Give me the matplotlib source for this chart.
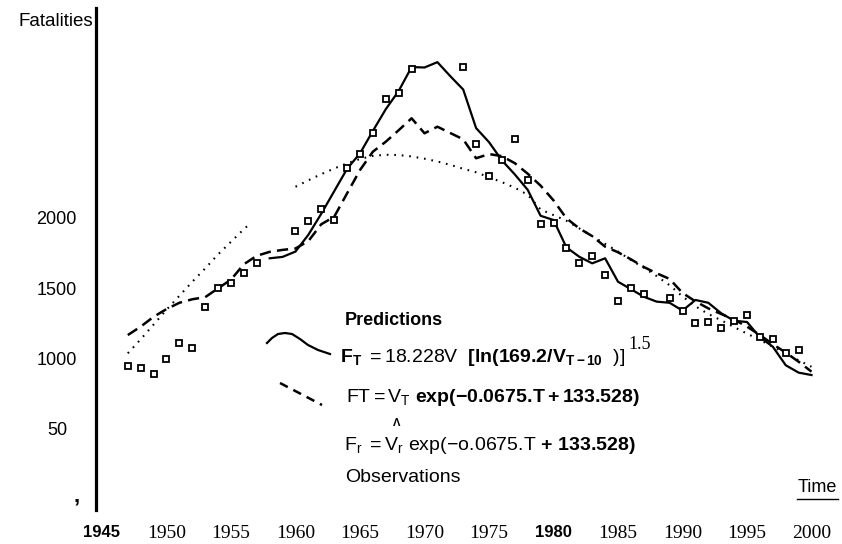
import matplotlib
matplotlib.use("Agg")
import matplotlib.pyplot as plt
import matplotlib.transforms as mtransforms
from matplotlib.lines import Line2D

plt.rcParams["font.family"] = ["Liberation Sans", "DejaVu Sans"]
plt.rcParams["mathtext.fontset"] = "custom"
plt.rcParams["mathtext.rm"] = "Liberation Sans"
plt.rcParams["mathtext.bf"] = "Liberation Sans:bold"
plt.rcParams["mathtext.it"] = "Liberation Sans:italic"

# observed road fatalities
obs_years = [1947, 1948, 1949, 1950, 1951, 1952, 1953, 1954, 1955, 1956, 1957,
             1960, 1961, 1962, 1963, 1964, 1965, 1966, 1967, 1968, 1969,
             1973, 1974, 1975, 1976, 1977, 1978, 1979, 1980, 1981, 1982, 1983,
             1984, 1985, 1986, 1987, 1989, 1990, 1991, 1992, 1993, 1994, 1995,
             1996, 1997, 1998, 1999]
obs_fatalities = [944, 928, 885, 994, 1110, 1073, 1367, 1498, 1534, 1610, 1681,
                  1910, 1976, 2061, 1985, 2353, 2457, 2603, 2845, 2892, 3064,
                  3078, 2525, 2299, 2410, 2562, 2270, 1954, 1966, 1783, 1681, 1728,
                  1591, 1408, 1498, 1460, 1427, 1339, 1253, 1256, 1218, 1267, 1306,
                  1149, 1135, 1035, 1058]

# F_T = 18.228 V [ln(169.2 / V_{T-10})]^1.5
model1_years = list(range(1958, 2001))
model1_values = [1712, 1722, 1760, 1880, 2030, 2190, 2350, 2460, 2620, 2775,
                 2905, 3075, 3072, 3110, 3010, 2915, 2640, 2540, 2410, 2310,
                 2200, 2015, 1985, 1790, 1723, 1676, 1712, 1545, 1492, 1438,
                 1403, 1395, 1339, 1415, 1395, 1320, 1267, 1258, 1149, 1082,
                 950, 897, 880]

# F_T = V_T exp(-0.0675 T + 133.528)
model2_years = list(range(1947, 2001))
model2_values = [1165, 1225, 1295, 1350, 1395, 1420, 1435, 1498, 1560, 1670,
                 1730, 1758, 1772, 1782, 1835, 1955, 2008, 2175, 2341, 2472,
                 2543, 2625, 2710, 2603, 2650, 2605, 2560, 2425, 2455, 2440,
                 2390, 2315, 2230, 2125, 1997, 1925, 1870, 1795, 1755, 1705,
                 1650, 1605, 1565, 1465, 1405, 1355, 1315, 1275, 1225, 1165,
                 1100, 1040, 975, 904]

# F_r = V_r exp(-0.0675 T + 133.528), fitted vehicle numbers
model3a_years = [1947, 1948, 1949, 1950, 1951, 1952, 1953, 1954, 1955, 1956, 1956.5]
model3a_values = [1035, 1135, 1240, 1345, 1445, 1545, 1640, 1740, 1830, 1920, 1961]
model3b_years = list(range(1960, 2001))
model3b_values = [2222, 2268, 2312, 2352, 2389, 2420, 2442, 2450, 2448, 2438,
                  2422, 2402, 2378, 2350, 2325, 2290, 2255, 2215, 2165, 2060,
                  2020, 1980, 1925, 1870, 1815, 1760, 1700, 1645, 1585, 1520,
                  1440, 1370, 1315, 1270, 1222, 1175, 1130, 1082, 1035, 985, 939]

x_ticks = list(range(1945, 2001, 5))
x_tick_labels = [str(t) for t in x_ticks]
y_ticks = [2000, 1500, 1000, 500, 0]
y_tick_labels = ["2000", "1500", "1000", "50", ","]

W, H = 842, 544
fig = plt.figure(figsize=(W / 100, H / 100), dpi=100)


def px(x, y):
    return x / W, 1 - y / H


def shift(label, dx, dy):
    # nudge a tick label by a few pixels
    label.set_transform(label.get_transform()
                        + mtransforms.ScaledTranslation(dx / 100, dy / 100,
                                                        fig.dpi_scale_trans))


ax = fig.add_axes([96 / W, 1 - 510 / H, 734 / W, 502 / H])
ax.set_xlim(1944.535, 2001.434)
ax.set_ylim(-82, 3496)

dotted = dict(color="black", lw=1.5, ls=(0, (0.8, 2.8)))
dashed = dict(color="black", lw=1.8, dashes=(4.5, 2.5))
ax.plot(model3a_years, model3a_values, **dotted)
ax.plot(model3b_years, model3b_values, **dotted)
ax.plot(model2_years, model2_values, **dashed)
ax.plot(model1_years, model1_values, color="black", lw=1.6)
ax.plot(obs_years, obs_fatalities, ls="none", marker="s", ms=4.5,
        mfc="white", mec="black", mew=1.3, zorder=5)

for side in ["top", "right", "bottom"]:
    ax.spines[side].set_visible(False)
ax.spines["left"].set_linewidth(2.3)

ax.set_xticks(x_ticks, x_tick_labels)
ax.set_yticks(y_ticks, y_tick_labels)
ax.tick_params(axis="both", length=0)
ax.tick_params(axis="x", pad=11, labelsize=14)
ax.tick_params(axis="y", pad=14, labelsize=13)

for lab in ax.get_xticklabels():
    if lab.get_text() in ("1945", "1980"):
        lab.set_fontfamily("Liberation Sans")
        lab.set_fontweight("bold")
        lab.set_fontsize(12)
    else:
        lab.set_fontfamily("Liberation Serif")

for lab in ax.get_yticklabels():
    if lab.get_text() == "50":
        shift(lab, -9, 0)
    elif lab.get_text() == ",":
        lab.set_fontweight("bold")
        lab.set_fontsize(16)
        shift(lab, 3, 5)

fig.text(*px(93, 21), "Fatalities", ha="right", va="center", fontsize=13.5)
fig.text(*px(817, 488), "Time", ha="center", va="center", fontsize=13)
fig.add_artist(Line2D([797 / W, 838 / W], [1 - 499 / H] * 2, color="black", lw=1))

# legend block
fig.text(*px(345, 325), "Predictions", fontweight="bold", fontsize=13, va="baseline")

wave = [(267, 343), (272, 338), (278, 334), (285, 333), (292, 334), (300, 339),
        (308, 345), (318, 350), (330, 354)]
fig.add_artist(Line2D([p[0] / W for p in wave], [1 - p[1] / H for p in wave],
                      color="black", lw=1.6))
fig.add_artist(Line2D([280 / W, 322 / W], [1 - 383 / H, 1 - 405 / H],
                      color="black", lw=1.8, dashes=(3.5, 2.5)))

line1 = fig.text(*px(340, 362),
                 r"$\mathbf{F}_{\mathbf{T}}\ \mathrm{=18.228V}\ \ "
                 r"\mathbf{[ln(169.2/V}_{\mathbf{T-10}}\ \ \mathrm{)]}$",
                 fontsize=14, va="baseline")
ax.annotate("1.5", xy=(1, 1), xycoords=line1, xytext=(2, 2),
            textcoords="offset points", ha="left", va="center",
            fontsize=13, fontfamily="Liberation Serif", annotation_clip=False)

fig.text(*px(346, 402),
         r"$\mathrm{FT=V}_{\mathrm{T}}\ \mathbf{exp(-0.0675.\!T+133.528)}$",
         fontsize=14, va="baseline")

fig.text(*px(397, 423), "\u039b", fontsize=8, fontweight="bold",
         ha="center", va="center")
fig.text(*px(344, 450),
         r"$\mathrm{F}_{\mathrm{r}}\ \mathrm{=V}_{\mathrm{r}}\ "
         r"\mathrm{exp(-o.\!0675.\!T}\ \mathbf{+\ 133.528)}$",
         fontsize=14, va="baseline")
fig.text(*px(345, 482), "Observations", fontsize=14, va="baseline")

fig.savefig("out.png", dpi=100)
